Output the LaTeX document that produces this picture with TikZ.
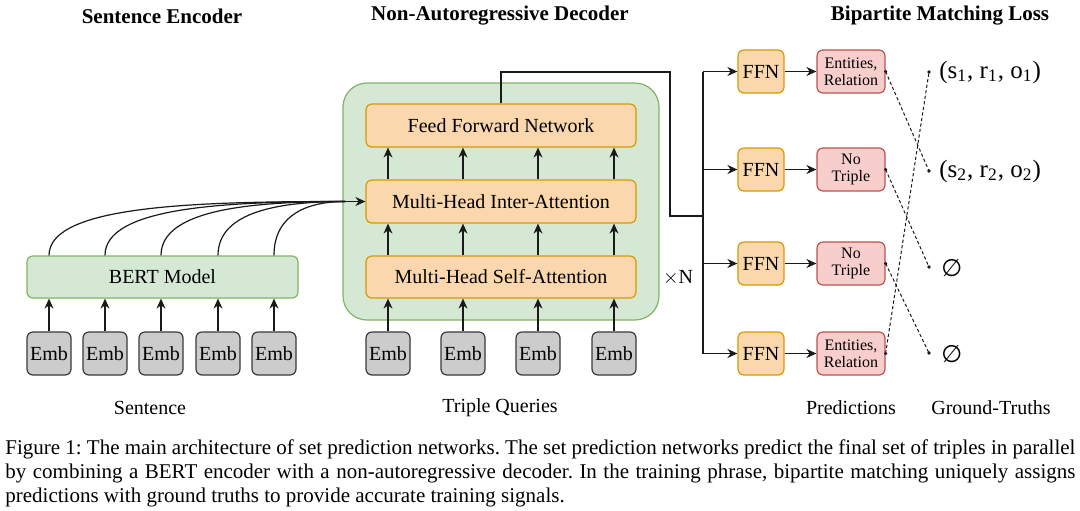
\documentclass[tikz,border=0pt]{standalone}
\usepackage{fontspec}
\setmainfont{Liberation Serif}
\newfontfamily\djv{DejaVu Sans}
\usetikzlibrary{arrows.meta}
\definecolor{gfill}{HTML}{D5E8D4}
\definecolor{gline}{HTML}{82B366}
\definecolor{ofill}{HTML}{FAD7AC}
\definecolor{oline}{HTML}{D79B00}
\definecolor{pfill}{HTML}{F8CECC}
\definecolor{pline}{HTML}{B85450}
\definecolor{efill}{HTML}{CCCCCC}
\definecolor{eline}{HTML}{36393D}
\definecolor{ink}{HTML}{1A1A1A}
\begin{document}
\frenchspacing
\begin{tikzpicture}[x=0.5pt,y=-0.5pt,
 box/.style={rounded corners=3pt, line width=0.6pt, inner sep=0pt, align=center},
 bertbox/.style={box, fill=gfill, draw=gline, minimum width=135.5pt, minimum height=21pt, font=\fontsize{10}{12}\selectfont},
 embbox/.style={box, fill=efill, draw=eline, minimum width=22pt, minimum height=21.5pt, font=\fontsize{10}{12}\selectfont},
 decbox/.style={box, fill=ofill, draw=oline, minimum width=135pt, minimum height=21.5pt, font=\fontsize{10}{12}\selectfont},
 ffnbox/.style={box, fill=ofill, draw=oline, minimum width=23pt, minimum height=21.5pt, font=\fontsize{10}{12}\selectfont},
 predbox/.style={box, fill=pfill, draw=pline, minimum width=34pt, minimum height=21.5pt, font=\fontsize{8}{8.6}\selectfont},
 arr/.style={draw=ink, line width=0.6pt, -{Stealth[length=5pt,width=4.5pt]}},
 wire/.style={draw=ink, line width=0.6pt},
 match/.style={draw=ink, line width=0.5pt, dash pattern=on 1.6pt off 1.2pt},
 title/.style={font=\fontsize{10.5}{12}\selectfont\bfseries},
 lbl/.style={font=\fontsize{10}{12}\selectfont},
 gt/.style={font=\fontsize{12.5}{14}\selectfont, anchor=west, inner sep=0pt},
]
\fill[white] (0,0) rectangle (1080,510);
\useasboundingbox (0,0) rectangle (1080,510);

% titles
\node[title] (t1) at (162,16) {Sentence Encoder};
\node[title] (t2) at (500,16) {Non-Autoregressive Decoder};
\node[title] (t3) at (940,16) {Bipartite Matching Loss};

% encoder
\node[bertbox] (bert) at (162.5,277) {BERT Model};
\foreach \i/\x in {1/49,2/105,3/161,4/218,5/274}{
  \node[embbox] (e\i) at (\x,353.5) {Emb};
  \draw[arr] (e\i.north) -- (e\i.north |- bert.south);
  \coordinate (b\i) at (e\i.north |- bert.north);
}

% decoder container
\node[fill=gfill, draw=gline, line width=0.6pt, rounded corners=12pt, minimum width=158pt, minimum height=118.5pt, inner sep=0pt] (dec) at (501,201.5) {};
\node[decbox] (ffnnet) at (501,125.5) {Feed Forward Network};
\node[decbox] (inter) at (501,201.5) {Multi-Head Inter-Attention};
\node[decbox, minimum height=21pt] (self) at (501,277) {Multi-Head Self-Attention};
\foreach \i/\x in {1/388,2/463,3/538,4/614}{
  \node[embbox] (q\i) at (\x,353.5) {Emb};
  \draw[arr] (q\i.north) -- (q\i.north |- self.south);
  \coordinate (s\i) at (q\i.north |- self.north);
  \draw[arr] (s\i) -- (s\i |- inter.south);
  \coordinate (n\i) at (q\i.north |- inter.north);
  \draw[arr] (n\i) -- (n\i |- ffnnet.south);
}
\node[lbl] (xn) at (678,278) {$\times$N};

% encoder to inter-attention
\coordinate (m) at (345,201.5);
\draw[wire] (b1) .. controls (49,205) and (197,201.5) .. (m);
\draw[wire] (b2) .. controls (105,207) and (225,201.5) .. (m);
\draw[wire] (b3) .. controls (161,209) and (253,201.5) .. (m);
\draw[wire] (b4) .. controls (218,211) and (281,201.5) .. (m);
\draw[wire] (b5) .. controls (274,213) and (310,201.5) .. (m);
\draw[arr] (m) -- (inter.west);

% FFN heads and predictions
\foreach \i/\y/\t in {1/71.5/{Entities,\\Relation},2/169.5/{No\\Triple},3/263.5/{No\\Triple},4/353.5/{Entities,\\Relation}}{
  \node[ffnbox] (f\i) at (761,\y) {FFN};
  \node[predbox] (p\i) at (851,\y) {\t};
  \draw[arr] (f\i) -- (p\i);
}
\coordinate (c1) at (670,72);
\coordinate (bus) at (703,216);
\draw[wire] (ffnnet.north) |- (c1) |- (bus);
\draw[wire] (f1.west -| bus) -- (f4.west -| bus);
\foreach \i in {1,...,4}{
  \draw[arr] (f\i.west -| bus) -- (f\i.west);
}

% ground truths
\coordinate (g1) at (929,72);
\coordinate (g2) at (929,171);
\coordinate (g3) at (929,267);
\coordinate (g4) at (929,353);
\node[gt] (gt1) at (939,72) {(s\textsubscript{1}, r\textsubscript{1}, o\textsubscript{1})};
\node[gt] (gt2) at (939,171) {(s\textsubscript{2}, r\textsubscript{2}, o\textsubscript{2})};
\node[gt, font=\fontsize{12}{14}\djv] (gt3) at (941,268) {∅};
\node[gt, font=\fontsize{12}{14}\djv] (gt4) at (941,354) {∅};
\draw[match] (p1.east) -- (g2);
\draw[match] (p2.east) -- (g3);
\draw[match] (p3.east) -- (g4);
\draw[match] (p4.east) -- (g1);
\foreach \n in {p1.east,p2.east,p3.east,p4.east,g1,g2,g3,g4}{
  \fill[ink] (\n) circle (0.9pt);
}

% bottom labels
\node[lbl] (l1) at (150,408) {Sentence};
\node[lbl] (l2) at (500,408) {Triple Queries};
\node[lbl] (l3) at (851,408) {Predictions};
\node[lbl] (l4) at (991,408) {Ground-Truths};

% caption
\node[anchor=north west, text width=535pt, align=justify, inner sep=0pt, font=\fontsize{10.5}{12}\selectfont] (cap) at (5,439) {Figure 1: The main architecture of set prediction networks. The set prediction networks predict the final set of triples in parallel\linebreak by combining a BERT encoder with a non-autoregressive decoder. In the training phrase, bipartite matching uniquely assigns\linebreak predictions with ground truths to provide accurate training signals.};
\end{tikzpicture}
\end{document}
